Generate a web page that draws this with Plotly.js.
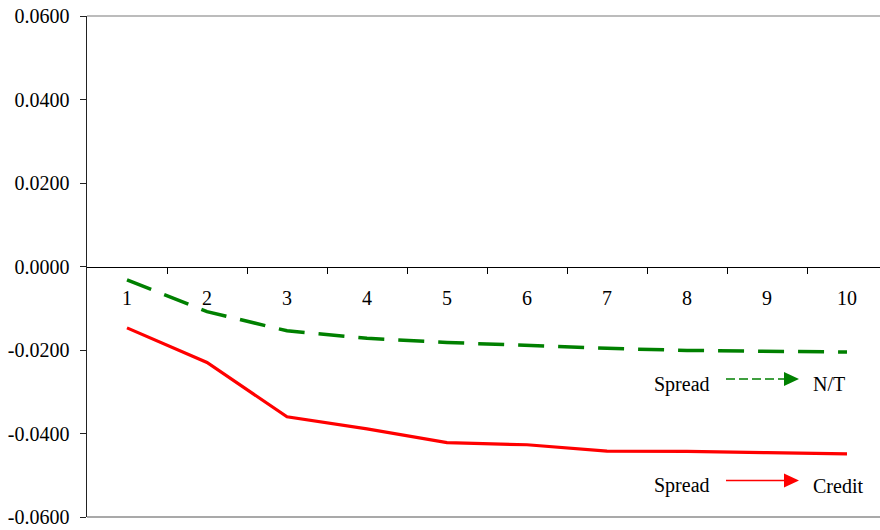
<!DOCTYPE html>
<html>
<head>
<meta charset="utf-8">
<script src="https://cdn.plot.ly/plotly-3.0.1.min.js"></script>
<style>html,body{margin:0;padding:0;background:#fff;}#chart{width:880px;height:530px;}</style>
</head>
<body>
<div id="chart"></div>
<script>
// ---- data ----
const periods = [1, 2, 3, 4, 5, 6, 7, 8, 9, 10];
const periodLabels = ['1', '2', '3', '4', '5', '6', '7', '8', '9', '10'];
const spreadNT = [-0.0032, -0.0108, -0.0154, -0.0172, -0.0182, -0.0190, -0.0196, -0.0201, -0.0204, -0.0205];
const spreadCredit = [-0.0147, -0.0230, -0.0360, -0.0389, -0.0422, -0.0427, -0.0442, -0.0443, -0.0446, -0.0449];
const yTickVals = [-0.06, -0.04, -0.02, 0, 0.02, 0.04, 0.06];
const yTickText = ['-0.0600', '-0.0400', '-0.0200', '0.0000', '0.0200', '0.0400', '0.0600'];
const boundaryTicks = [1.5, 2.5, 3.5, 4.5, 5.5, 6.5, 7.5, 8.5, 9.5];

// ---- layout helpers (pixel -> paper) ----
const L = 87, T = 16, W = 793, H = 501;
const px = x => (x - L) / W;
const py = y => (T + H - y) / H;

const FONT = 'Liberation Serif, Times New Roman, serif';
const FS = 20;

const traces = [
  {
    x: periods, y: spreadNT, type: 'scatter', mode: 'lines', name: 'Spread → N/T',
    line: {color: '#008000', width: 3.5, dash: '26px,14px'}
  },
  {
    x: periods, y: spreadCredit, type: 'scatter', mode: 'lines', name: 'Spread → Credit',
    line: {color: '#ff0000', width: 3.2}
  }
];

function arrowShapes(y, color, dash) {
  return [
    {type: 'line', xref: 'paper', yref: 'paper', x0: px(726), x1: px(785), y0: py(y), y1: py(y),
     line: {color: color, width: 1.5, dash: dash}},
    {type: 'path', xref: 'paper', yref: 'paper',
     path: `M ${px(784)} ${py(y - 7)} L ${px(799)} ${py(y)} L ${px(784)} ${py(y + 7)} Z`,
     fillcolor: color, line: {color: color, width: 0}}
  ];
}

const shapes = [
  {type: 'line', xref: 'paper', yref: 'paper', x0: 0, x1: 1, y0: 1, y1: 1, line: {color: '#a6a6a6', width: 1.5}},
  {type: 'line', xref: 'paper', yref: 'paper', x0: 0, x1: 1, y0: 0, y1: 0, line: {color: '#8c8c8c', width: 1.5}},
  ...arrowShapes(379, '#008000', '9px,4px'),
  ...arrowShapes(480.5, '#ff0000', 'solid')
];

function label(text, x, y, anchor) {
  return {text: text, xref: 'paper', yref: 'paper', x: px(x), y: py(y), xanchor: anchor, yanchor: 'middle',
          showarrow: false, font: {family: FONT, size: FS, color: '#000'}};
}

const layout = {
  width: 880, height: 530,
  margin: {l: L, r: 0, t: T, b: 530 - T - H, pad: 0},
  paper_bgcolor: '#fff', plot_bgcolor: '#fff',
  showlegend: false,
  font: {family: FONT, size: FS, color: '#000'},
  xaxis: {
    range: [0.5, 0.5 + W / 80], anchor: 'free', position: 0.5,
    showline: true, linecolor: '#000', linewidth: 1,
    showgrid: false, zeroline: false,
    tickmode: 'array', tickvals: periods, ticktext: periodLabels, ticks: '',
    ticklabelstandoff: 13,
    minor: {tickmode: 'array', tickvals: boundaryTicks, ticks: 'outside', ticklen: 6, tickcolor: '#000', tickwidth: 1},
    tickfont: {family: FONT, size: FS, color: '#000'}
  },
  yaxis: {
    range: [-0.06, 0.06],
    showline: true, linecolor: '#222', linewidth: 1.5,
    showgrid: false, zeroline: false,
    tickmode: 'array', tickvals: yTickVals, ticktext: yTickText,
    ticks: 'outside', ticklen: 6, tickcolor: '#222', tickwidth: 1,
    ticklabelstandoff: 6,
    tickfont: {family: FONT, size: FS, color: '#000'}
  },
  shapes: shapes,
  annotations: [
    label('Spread', 652, 384, 'left'),
    label('N/T', 811, 384, 'left'),
    label('Spread', 652, 485.5, 'left'),
    label('Credit', 811, 485.5, 'left')
  ]
};

Plotly.newPlot('chart', traces, layout, {displayModeBar: false, staticPlot: true});
</script>
</body>
</html>
